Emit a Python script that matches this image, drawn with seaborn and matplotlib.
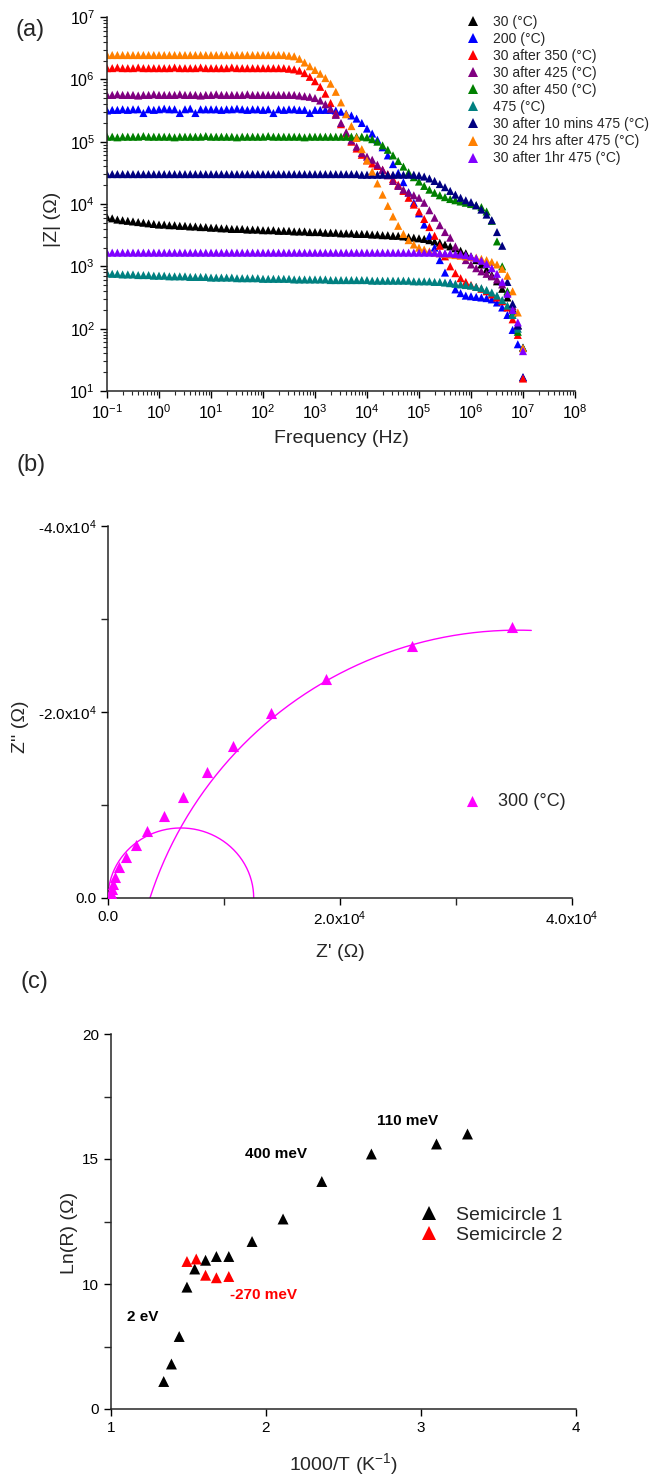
import numpy as np
import pandas as pd
import matplotlib
matplotlib.use("Agg")
import matplotlib.pyplot as plt
import seaborn as sns
from matplotlib.ticker import LogLocator, FixedLocator, FuncFormatter, NullFormatter, NullLocator

# ---------------- panel (a): |Z| vs frequency ----------------
decade_exponents = [-1, 0, 1, 2, 3, 4, 5, 6]
decade_mantissas = [1.0, 1.259, 1.585, 1.995, 2.512, 3.162, 3.981, 5.012, 6.310, 7.943]
final_frequency = 1.0e7

series_labels = ["30 (°C)", "200 (°C)", "30 after 350 (°C)", "30 after 425 (°C)",
                 "30 after 450 (°C)", "475 (°C)", "30 after 10 mins 475 (°C)",
                 "30 24 hrs after 475 (°C)", "30 after 1hr 475 (°C)"]
series_colors = ["#000000", "#0000FF", "#FF0000", "#800080", "#008000",
                 "#008080", "#000080", "#FF8000", "#8000FF"]

# log10(|Z| / Ohm), one value per frequency point
logz_30C = [
    3.79, 3.77, 3.75, 3.74, 3.73, 3.72, 3.71, 3.70, 3.69, 3.68,
    3.67, 3.67, 3.66, 3.66, 3.65, 3.65, 3.64, 3.64, 3.63, 3.63,
    3.62, 3.62, 3.61, 3.61, 3.60, 3.60, 3.60, 3.59, 3.59, 3.59,
    3.58, 3.58, 3.58, 3.57, 3.57, 3.57, 3.56, 3.56, 3.56, 3.55,
    3.55, 3.55, 3.54, 3.54, 3.54, 3.53, 3.53, 3.53, 3.52, 3.52,
    3.52, 3.51, 3.51, 3.50, 3.50, 3.49, 3.49, 3.48, 3.47, 3.46,
    3.45, 3.44, 3.42, 3.40, 3.38, 3.35, 3.32, 3.29, 3.25, 3.21,
    3.16, 3.10, 3.03, 2.95, 2.86, 2.76, 2.64, 2.50, 2.32, 2.06,
    1.22]
logz_200C = [
    5.50, 5.51, 5.51, 5.52, 5.51, 5.52, 5.52, 5.46, 5.52, 5.51,
    5.52, 5.53, 5.52, 5.52, 5.46, 5.52, 5.53, 5.46, 5.52, 5.52,
    5.52, 5.52, 5.51, 5.52, 5.52, 5.53, 5.52, 5.51, 5.52, 5.52,
    5.51, 5.52, 5.46, 5.52, 5.51, 5.52, 5.52, 5.51, 5.51, 5.46,
    5.51, 5.51, 5.51, 5.51, 5.50, 5.48, 5.45, 5.42, 5.37, 5.30,
    5.21, 5.13, 5.03, 4.91, 4.78, 4.64, 4.50, 4.35, 4.19, 4.02,
    3.85, 3.67, 3.49, 3.30, 3.10, 2.90, 2.74, 2.63, 2.57, 2.53,
    2.52, 2.51, 2.50, 2.49, 2.47, 2.42, 2.34, 2.22, 1.98, 1.75,
    1.22]
logz_30_after_350 = [
    6.18, 6.18, 6.19, 6.18, 6.18, 6.18, 6.19, 6.18, 6.18, 6.18,
    6.18, 6.18, 6.18, 6.19, 6.18, 6.18, 6.18, 6.18, 6.19, 6.18,
    6.18, 6.18, 6.18, 6.18, 6.19, 6.18, 6.18, 6.18, 6.18, 6.18,
    6.18, 6.18, 6.18, 6.18, 6.18, 6.17, 6.16, 6.14, 6.10, 6.04,
    5.97, 5.88, 5.77, 5.62, 5.45, 5.28, 5.13, 5.00, 4.89, 4.79,
    4.70, 4.65, 4.61, 4.55, 4.48, 4.40, 4.31, 4.21, 4.10, 3.99,
    3.88, 3.76, 3.63, 3.49, 3.33, 3.16, 3.00, 2.89, 2.81, 2.75,
    2.70, 2.67, 2.64, 2.60, 2.55, 2.50, 2.44, 2.34, 2.15, 1.90,
    1.20]
logz_30_after_425 = [
    5.75, 5.75, 5.76, 5.75, 5.75, 5.75, 5.74, 5.75, 5.75, 5.76,
    5.75, 5.75, 5.75, 5.75, 5.76, 5.75, 5.75, 5.75, 5.74, 5.75,
    5.75, 5.76, 5.75, 5.75, 5.75, 5.75, 5.75, 5.76, 5.75, 5.75,
    5.75, 5.75, 5.75, 5.75, 5.75, 5.75, 5.75, 5.74, 5.73, 5.72,
    5.70, 5.66, 5.60, 5.53, 5.43, 5.30, 5.15, 5.02, 4.92, 4.82,
    4.76, 4.71, 4.63, 4.55, 4.46, 4.37, 4.29, 4.23, 4.18, 4.14,
    4.10, 4.02, 3.90, 3.78, 3.66, 3.55, 3.46, 3.32, 3.20, 3.10,
    3.03, 2.97, 2.92, 2.88, 2.84, 2.79, 2.71, 2.58, 2.36, 2.05,
    1.69]
logz_30_after_450 = [
    5.08, 5.08, 5.07, 5.08, 5.08, 5.08, 5.08, 5.09, 5.08, 5.08,
    5.08, 5.08, 5.08, 5.07, 5.08, 5.08, 5.08, 5.08, 5.08, 5.09,
    5.08, 5.08, 5.08, 5.08, 5.08, 5.07, 5.08, 5.08, 5.08, 5.08,
    5.08, 5.09, 5.08, 5.08, 5.08, 5.08, 5.08, 5.08, 5.07, 5.08,
    5.08, 5.08, 5.08, 5.08, 5.08, 5.08, 5.08, 5.08, 5.08, 5.08,
    5.07, 5.04, 5.00, 4.94, 4.87, 4.78, 4.69, 4.60, 4.51, 4.43,
    4.36, 4.29, 4.23, 4.18, 4.14, 4.11, 4.08, 4.06, 4.04, 4.02,
    4.00, 3.98, 3.95, 3.88, 3.73, 3.40, 3.00, 2.60, 2.25, 1.95,
    1.69]
logz_475C = [
    2.89, 2.88, 2.88, 2.87, 2.87, 2.87, 2.86, 2.86, 2.86, 2.85,
    2.85, 2.85, 2.84, 2.84, 2.84, 2.84, 2.83, 2.83, 2.83, 2.83,
    2.82, 2.82, 2.82, 2.82, 2.82, 2.81, 2.81, 2.81, 2.81, 2.81,
    2.80, 2.80, 2.80, 2.80, 2.80, 2.80, 2.79, 2.79, 2.79, 2.79,
    2.79, 2.79, 2.79, 2.78, 2.78, 2.78, 2.78, 2.78, 2.78, 2.78,
    2.78, 2.77, 2.77, 2.77, 2.77, 2.77, 2.77, 2.77, 2.77, 2.76,
    2.76, 2.76, 2.76, 2.75, 2.75, 2.74, 2.73, 2.72, 2.71, 2.70,
    2.69, 2.67, 2.65, 2.62, 2.58, 2.53, 2.46, 2.37, 2.22, 2.00,
    1.70]
logz_30_after_10min_475 = [
    4.48, 4.48, 4.48, 4.48, 4.48, 4.48, 4.48, 4.48, 4.48, 4.48,
    4.48, 4.48, 4.48, 4.48, 4.48, 4.48, 4.48, 4.48, 4.48, 4.48,
    4.48, 4.48, 4.48, 4.48, 4.48, 4.48, 4.48, 4.48, 4.48, 4.48,
    4.48, 4.48, 4.48, 4.48, 4.48, 4.48, 4.48, 4.48, 4.48, 4.48,
    4.48, 4.48, 4.48, 4.48, 4.48, 4.48, 4.48, 4.48, 4.48, 4.47,
    4.47, 4.47, 4.47, 4.47, 4.47, 4.47, 4.47, 4.47, 4.47, 4.47,
    4.46, 4.44, 4.41, 4.37, 4.32, 4.27, 4.21, 4.15, 4.10, 4.06,
    4.03, 3.98, 3.91, 3.83, 3.74, 3.55, 3.33, 2.75, 2.40, 2.05,
    1.69]
logz_30_24h_after_475 = [
    6.39, 6.39, 6.39, 6.39, 6.39, 6.39, 6.39, 6.39, 6.39, 6.39,
    6.39, 6.39, 6.39, 6.39, 6.39, 6.39, 6.39, 6.39, 6.39, 6.39,
    6.39, 6.39, 6.39, 6.39, 6.39, 6.39, 6.39, 6.39, 6.39, 6.39,
    6.39, 6.39, 6.39, 6.39, 6.39, 6.38, 6.37, 6.33, 6.27, 6.21,
    6.15, 6.09, 6.02, 5.93, 5.80, 5.63, 5.44, 5.25, 5.06, 4.88,
    4.70, 4.52, 4.33, 4.15, 3.97, 3.80, 3.65, 3.52, 3.42, 3.35,
    3.30, 3.27, 3.24, 3.22, 3.21, 3.20, 3.19, 3.18, 3.17, 3.16,
    3.15, 3.14, 3.12, 3.10, 3.07, 3.03, 2.96, 2.85, 2.60, 2.26,
    1.69]
logz_30_after_1h_475 = [
    3.22, 3.22, 3.22, 3.22, 3.22, 3.22, 3.22, 3.22, 3.22, 3.22,
    3.22, 3.22, 3.22, 3.22, 3.22, 3.22, 3.22, 3.22, 3.22, 3.22,
    3.22, 3.22, 3.22, 3.22, 3.22, 3.22, 3.22, 3.22, 3.22, 3.22,
    3.22, 3.22, 3.22, 3.22, 3.22, 3.22, 3.22, 3.22, 3.22, 3.22,
    3.22, 3.22, 3.22, 3.22, 3.22, 3.22, 3.22, 3.22, 3.22, 3.22,
    3.22, 3.22, 3.22, 3.22, 3.22, 3.22, 3.22, 3.22, 3.22, 3.22,
    3.22, 3.22, 3.22, 3.22, 3.21, 3.21, 3.21, 3.20, 3.19, 3.18,
    3.16, 3.13, 3.09, 3.04, 2.97, 2.88, 2.75, 2.56, 2.30, 2.10,
    1.64]

# ---------------- panel (b): Nyquist plot at 300 C ----------------
zre_300C = [34.8e3, 26.2e3, 18.8e3, 14.05e3, 10.76e3, 8.5e3, 6.44e3, 4.8e3, 3.39e3,
            2.38e3, 1.52e3, 0.95e3, 0.63e3, 0.46e3, 0.32e3, 0.23e3, 0.17e3, 0.12e3, 0.08e3]
zim_300C = [-29.1e3, -27.1e3, -23.6e3, -19.9e3, -16.3e3, -13.5e3, -10.9e3, -8.8e3, -7.24e3,
            -5.66e3, -4.37e3, -3.3e3, -2.3e3, -1.5e3, -0.93e3, -0.5e3, -0.3e3, -0.15e3, -0.05e3]
# fitted arcs: centre (Z', Z''), radii along Z' and Z'', angular range (rad)
fit_arc_small = dict(c_re=6.28e3, c_im=0.0, r_re=6.28e3, r_im=7.53e3, t0=0.0, t1=np.pi)
fit_arc_large = dict(c_re=35.3e3, c_im=12.8e3, r_re=33.3e3, r_im=41.6e3, t0=2.829, t1=1.535)

# ---------------- panel (c): Arrhenius plot ----------------
inv_temp_s1 = [1.34, 1.39, 1.44, 1.49, 1.54, 1.61, 1.68, 1.76, 1.91, 2.11, 2.36, 2.68, 3.10, 3.30]
lnr_s1 = [2.2, 3.6, 5.8, 9.75, 10.6, 10.95, 11.1, 11.1, 11.7, 12.6, 14.1, 15.2, 15.6, 16.0]
inv_temp_s2 = [1.49, 1.55, 1.61, 1.68, 1.76]
lnr_s2 = [10.9, 11.0, 10.35, 10.25, 10.3]
c_labels = ["Semicircle 1", "Semicircle 2"]
c_colors = ["#000000", "#FF0000"]

# ---------------- styling ----------------
sns.set_style("ticks")
plt.rcParams["font.family"] = ["Liberation Sans", "DejaVu Sans"]
plt.rcParams["mathtext.fontset"] = "custom"
plt.rcParams["mathtext.rm"] = "Liberation Sans"
plt.rcParams["mathtext.it"] = "Liberation Sans:italic"
plt.rcParams["mathtext.bf"] = "Liberation Sans:bold"
plt.rcParams["axes.linewidth"] = 1.1
plt.rcParams["axes.unicode_minus"] = False

W, H = 664, 1475
fig = plt.figure(figsize=(W / 100, H / 100), dpi=100)


def axes_px(x0, x1, y0, y1):
    return fig.add_axes([x0 / W, 1 - y1 / H, (x1 - x0) / W, (y1 - y0) / H])


def style_axes(ax):
    ax.spines["top"].set_visible(False)
    ax.spines["right"].set_visible(False)
    ax.tick_params(which="major", direction="out", length=5, width=1.0, labelsize=11, colors="black")
    ax.tick_params(which="minor", direction="out", length=3, width=0.8)
    ax.set_facecolor("white")


# ---- (a)
ax_a = axes_px(107, 575, 17, 391)
freq_hz = [m * 10.0 ** e for e in decade_exponents for m in decade_mantissas] + [final_frequency]
all_logz = [logz_30C, logz_200C, logz_30_after_350, logz_30_after_425, logz_30_after_450,
            logz_475C, logz_30_after_10min_475, logz_30_24h_after_475, logz_30_after_1h_475]
rows = []
for lab, vals in zip(series_labels, all_logz):
    for f, lz in zip(freq_hz, vals):
        rows.append((lab, f, 10.0 ** lz))
df_a = pd.DataFrame(rows, columns=["series", "freq", "Z"])
ax_a.set_xscale("log")
ax_a.set_yscale("log")
sns.scatterplot(data=df_a, x="freq", y="Z", hue="series", hue_order=series_labels,
                palette=dict(zip(series_labels, series_colors)), marker="^", s=34,
                linewidth=0, ax=ax_a, legend=True)
ax_a.set_xlim(1e-1, 1e8)
ax_a.set_ylim(1e1, 1e7)
style_axes(ax_a)
ax_a.xaxis.set_major_locator(LogLocator(base=10, numticks=20))
ax_a.yaxis.set_major_locator(LogLocator(base=10, numticks=20))
ax_a.xaxis.set_minor_locator(LogLocator(base=10, subs=np.arange(2, 10), numticks=20))
ax_a.yaxis.set_minor_locator(LogLocator(base=10, subs=np.arange(2, 10), numticks=20))
pow_fmt = FuncFormatter(lambda v, p: r"$10^{%d}$" % int(round(np.log10(v))))
ax_a.xaxis.set_major_formatter(pow_fmt)
ax_a.yaxis.set_major_formatter(pow_fmt)
ax_a.xaxis.set_minor_formatter(NullFormatter())
ax_a.yaxis.set_minor_formatter(NullFormatter())
ax_a.tick_params(which="major", labelsize=11.5)
ax_a.set_xlabel("Frequency (Hz)", fontsize=14)
ax_a.set_ylabel("|Z| (Ω)", fontsize=14)
ax_a.xaxis.set_label_coords(0.5, -0.105)
ax_a.yaxis.set_label_coords(-0.098, 0.46)
sns.move_legend(ax_a, "upper left", bbox_to_anchor=(466 / W, 1 - 15 / H),
                bbox_transform=fig.transFigure, title=None, frameon=False, fontsize=10,
                handlelength=1.0, handletextpad=0.94, labelspacing=0.22,
                borderpad=0, borderaxespad=0, markerscale=1.35)

# ---- (b)
ax_b = axes_px(108, 572, 526, 898)


def arc_points(p, n=200):
    t = np.linspace(p["t0"], p["t1"], n)
    return p["c_re"] + p["r_re"] * np.cos(t), p["c_im"] - p["r_im"] * np.sin(t)


for arc in (fit_arc_small, fit_arc_large):
    xr, yr = arc_points(arc)
    sns.lineplot(x=xr, y=yr, sort=False, estimator=None, color="#FF00FF", linewidth=1.0, ax=ax_b)
sns.scatterplot(x=zre_300C, y=zim_300C, color="#FF00FF", marker="^", s=64, linewidth=0,
                ax=ax_b, label="300 (°C)", zorder=3)
ax_b.set_xlim(0, 4e4)
ax_b.set_ylim(0, -4e4)
style_axes(ax_b)
ax_b.xaxis.set_major_locator(FixedLocator([0, 2e4, 4e4]))
ax_b.yaxis.set_major_locator(FixedLocator([0, -2e4, -4e4]))
ax_b.xaxis.set_minor_locator(FixedLocator([1e4, 3e4]))
ax_b.yaxis.set_minor_locator(FixedLocator([-1e4, -3e4]))
ax_b.tick_params(which="minor", length=5, width=1.0)


def sci_fmt(v, p):
    if abs(v) < 1e-9:
        return "0.0"
    return "%.1fx" % (v / 1e4) + r"$10^{4}$"


ax_b.xaxis.set_major_formatter(FuncFormatter(sci_fmt))
ax_b.yaxis.set_major_formatter(FuncFormatter(sci_fmt))
ax_b.set_xlabel("Z' (Ω)", fontsize=14)
ax_b.set_ylabel("Z'' (Ω)", fontsize=14)
ax_b.xaxis.set_label_coords(0.5, -0.125)
ax_b.yaxis.set_label_coords(-0.17, 0.46)
h, l = ax_b.get_legend_handles_labels()
ax_b.legend(h, l, loc="upper left", bbox_to_anchor=(463 / W, 1 - 793 / H),
            bbox_transform=fig.transFigure, frameon=False, fontsize=13,
            handlelength=1.0, handletextpad=0.94, borderpad=0, borderaxespad=0)

# ---- (c)
ax_c = axes_px(111, 576, 1034, 1409)


def fwd(y):
    y = np.asarray(y, dtype=float)
    return np.where(y >= 10, y, 5 + y / 2)


def inv(y):
    y = np.asarray(y, dtype=float)
    return np.where(y >= 10, y, 2 * (y - 5))


ax_c.set_yscale("function", functions=(fwd, inv))
df_c = pd.DataFrame({
    "invT": inv_temp_s1 + inv_temp_s2,
    "lnR": lnr_s1 + lnr_s2,
    "set": [c_labels[0]] * len(inv_temp_s1) + [c_labels[1]] * len(inv_temp_s2),
})
sns.scatterplot(data=df_c, x="invT", y="lnR", hue="set", hue_order=c_labels,
                palette=dict(zip(c_labels, c_colors)), marker="^", s=62, linewidth=0,
                ax=ax_c, legend=True)
ax_c.set_xlim(1, 4)
ax_c.set_ylim(0, 20)
style_axes(ax_c)
ax_c.xaxis.set_major_locator(FixedLocator([1, 2, 3, 4]))
ax_c.xaxis.set_minor_locator(NullLocator())
ax_c.yaxis.set_major_locator(FixedLocator([0, 10, 15, 20]))
ax_c.yaxis.set_minor_locator(FixedLocator([5, 12.5, 17.5]))
ax_c.xaxis.set_major_formatter(FuncFormatter(lambda v, p: "%d" % v))
ax_c.yaxis.set_major_formatter(FuncFormatter(lambda v, p: "%d" % v))
ax_c.yaxis.set_minor_formatter(NullFormatter())
ax_c.tick_params(which="minor", length=5, width=1.0)
ax_c.set_xlabel("1000/T (K$^{-1}$)", fontsize=14)
ax_c.set_ylabel("Ln(R) (Ω)", fontsize=14)
ax_c.xaxis.set_label_coords(0.5, -0.112)
ax_c.yaxis.set_label_coords(-0.072, 0.47)
sns.move_legend(ax_c, "upper left", bbox_to_anchor=(419 / W, 1 - 1206 / H),
                bbox_transform=fig.transFigure, title=None, frameon=False, fontsize=14,
                handlelength=1.0, handletextpad=0.9, labelspacing=0.15,
                borderpad=0, borderaxespad=0, markerscale=1.35)
ax_c.text(0.572, 0.768, "110 meV", transform=ax_c.transAxes, fontsize=11,
          fontweight="bold", ha="left", va="center", color="black")
ax_c.text(0.288, 0.68, "400 meV", transform=ax_c.transAxes, fontsize=11,
          fontweight="bold", ha="left", va="center", color="black")
ax_c.text(0.034, 0.245, "2 eV", transform=ax_c.transAxes, fontsize=11,
          fontweight="bold", ha="left", va="center", color="black")
ax_c.text(0.256, 0.304, "-270 meV", transform=ax_c.transAxes, fontsize=11,
          fontweight="bold", ha="left", va="center", color="#FF0000")

# panel letters
for lab, (px, py) in {"(a)": (30, 30), "(b)": (31, 465), "(c)": (34, 982)}.items():
    fig.text(px / W, 1 - py / H, lab, fontsize=17, ha="center", va="center")

fig.savefig("out.png", dpi=100, facecolor="white")
